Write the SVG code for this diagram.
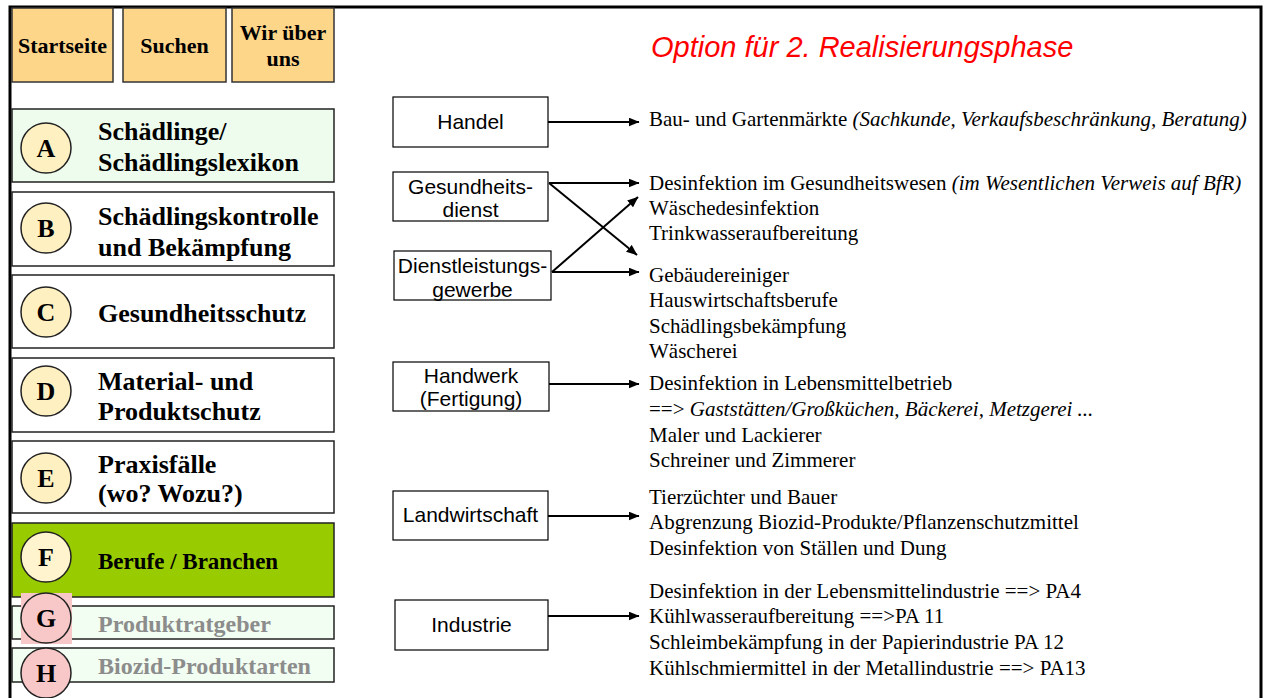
<svg xmlns="http://www.w3.org/2000/svg" width="1266" height="698" viewBox="0 0 1266 698">
  <defs>
    <marker id="arrow" viewBox="0 0 11 9" refX="10.5" refY="4.5" markerWidth="11" markerHeight="9" markerUnits="userSpaceOnUse" orient="auto">
      <path d="M0,0 L11,4.5 L0,9 Z" fill="#000"/>
    </marker>
    <style>
      .btn { fill: #FDD68A; stroke: #333; stroke-width: 1.5; }
      .btnt { font-family: "Liberation Serif", "Times New Roman", serif; font-weight: bold; font-size: 22px; fill: #000; text-anchor: middle; }
      .menu { stroke: #222; stroke-width: 1.5; }
      .mt { font-family: "Liberation Serif", "Times New Roman", serif; font-weight: bold; font-size: 26px; fill: #000; }
      .mtg { font-family: "Liberation Serif", "Times New Roman", serif; font-weight: bold; font-size: 24px; fill: #8C8C8C; }
      .circ { stroke: #222; stroke-width: 1.5; }
      .ct { font-family: "Liberation Serif", "Times New Roman", serif; font-weight: bold; font-size: 26px; fill: #000; text-anchor: middle; }
      .sec { fill: #fff; stroke: #000; stroke-width: 1.2; }
      .st { font-family: "Liberation Sans", Arial, sans-serif; font-size: 21px; fill: #000; text-anchor: middle; }
      .rt { font-family: "Liberation Serif", "Times New Roman", serif; font-size: 21px; fill: #000; }
      .it { font-style: italic; }
      .link { stroke: #000; stroke-width: 2; fill: none; marker-end: url(#arrow); }
    </style>
  </defs>

  <rect x="0" y="0" width="1266" height="698" fill="#fff"/>

  <!-- page frame -->
  <g id="frame" fill="none" stroke="#000" stroke-width="3">
    <path d="M10,698 V7 H1261 V698"/>
  </g>

  <!-- top navigation -->
  <g id="nav-startseite">
    <rect class="btn" x="12" y="8" width="101" height="74"/>
    <text class="btnt" x="62.5" y="53">Startseite</text>
  </g>
  <g id="nav-suchen">
    <rect class="btn" x="123" y="8" width="103" height="74"/>
    <text class="btnt" x="174.5" y="53">Suchen</text>
  </g>
  <g id="nav-wir">
    <rect class="btn" x="232" y="8" width="102" height="74"/>
    <text class="btnt" x="283" y="40">Wir über</text>
    <text class="btnt" x="283" y="66">uns</text>
  </g>

  <!-- left menu -->
  <g id="menu-a">
    <rect class="menu" x="12" y="109" width="322" height="73" fill="#EEFCEE"/>
    <circle class="circ" cx="46" cy="148" r="25" fill="#FFF0C2"/>
    <text class="ct" x="46" y="157">A</text>
    <text class="mt" x="98" y="140">Schädlinge/</text>
    <text class="mt" x="98" y="171">Schädlingslexikon</text>
  </g>
  <g id="menu-b">
    <rect class="menu" x="12" y="192" width="322" height="74" fill="#fff"/>
    <circle class="circ" cx="46" cy="228" r="25" fill="#FFF0C2"/>
    <text class="ct" x="46" y="237">B</text>
    <text class="mt" x="98" y="225">Schädlingskontrolle</text>
    <text class="mt" x="98" y="256">und Bekämpfung</text>
  </g>
  <g id="menu-c">
    <rect class="menu" x="12" y="275" width="322" height="73" fill="#fff"/>
    <circle class="circ" cx="46" cy="312" r="25" fill="#FFF0C2"/>
    <text class="ct" x="46" y="321">C</text>
    <text class="mt" x="98" y="322">Gesundheitsschutz</text>
  </g>
  <g id="menu-d">
    <rect class="menu" x="12" y="358" width="322" height="74" fill="#fff"/>
    <circle class="circ" cx="46" cy="391" r="25" fill="#FFF0C2"/>
    <text class="ct" x="46" y="400">D</text>
    <text class="mt" x="98" y="390">Material- und</text>
    <text class="mt" x="98" y="420">Produktschutz</text>
  </g>
  <g id="menu-e">
    <rect class="menu" x="12" y="441" width="322" height="72" fill="#fff"/>
    <circle class="circ" cx="46" cy="478" r="25" fill="#FFF0C2"/>
    <text class="ct" x="46" y="487">E</text>
    <text class="mt" x="98" y="473">Praxisfälle</text>
    <text class="mt" x="98" y="502">(wo? Wozu?)</text>
  </g>
  <g id="menu-f">
    <rect class="menu" x="12" y="523" width="322" height="74" fill="#99CC00"/>
    <circle class="circ" cx="46" cy="557" r="25" fill="#FFF4CE"/>
    <text class="ct" x="46" y="566">F</text>
    <text class="mt" x="98" y="569" style="font-size:23px">Berufe / Branchen</text>
  </g>
  <g id="menu-g">
    <rect class="menu" x="12" y="606" width="322" height="33" fill="#F2FEF2"/>
    <rect x="21" y="593" width="51" height="51" fill="#F8C8C8"/>
    <circle class="circ" cx="46" cy="618" r="25" fill="#F8C8C8"/>
    <text class="ct" x="46" y="627">G</text>
    <text class="mtg" x="98" y="632">Produktratgeber</text>
  </g>
  <g id="menu-h">
    <rect class="menu" x="12" y="648" width="322" height="34" fill="#F2FEF2"/>
    <circle class="circ" cx="46" cy="673" r="25" fill="#F8C8C8"/>
    <text class="ct" x="46" y="682">H</text>
    <text class="mtg" x="98" y="674">Biozid-Produktarten</text>
  </g>

  <!-- heading -->
  <text x="651" y="57" font-family="'Liberation Sans', Arial, sans-serif" font-style="italic" font-size="29" fill="#FF0000">Option für 2. Realisierungsphase</text>

  <!-- sectors -->
  <g id="sector-handel">
    <rect class="sec" x="393" y="97" width="155" height="50"/>
    <text class="st" x="470.5" y="129">Handel</text>
  </g>
  <g id="sector-gesundheit">
    <rect class="sec" x="393" y="172" width="155" height="49"/>
    <text class="st" x="470.5" y="194">Gesundheits-</text>
    <text class="st" x="470.5" y="217">dienst</text>
  </g>
  <g id="sector-dienstleistung">
    <rect class="sec" x="394" y="251" width="157" height="49"/>
    <text class="st" x="472.5" y="273">Dienstleistungs-</text>
    <text class="st" x="472.5" y="297">gewerbe</text>
  </g>
  <g id="sector-handwerk">
    <rect class="sec" x="393" y="362" width="156" height="49"/>
    <text class="st" x="471" y="383">Handwerk</text>
    <text class="st" x="471" y="406">(Fertigung)</text>
  </g>
  <g id="sector-landwirtschaft">
    <rect class="sec" x="393" y="491" width="155" height="49"/>
    <text class="st" x="470.5" y="522">Landwirtschaft</text>
  </g>
  <g id="sector-industrie">
    <rect class="sec" x="395" y="600" width="153" height="50"/>
    <text class="st" x="471.5" y="632">Industrie</text>
  </g>

  <!-- connectors -->
  <g id="connectors">
    <line class="link" x1="548" y1="122" x2="639" y2="122"/>
    <line class="link" x1="549" y1="183" x2="639" y2="183"/>
    <line class="link" x1="549" y1="183" x2="637" y2="255"/>
    <line class="link" x1="552" y1="272" x2="639" y2="272"/>
    <line class="link" x1="552" y1="272" x2="638" y2="197"/>
    <line class="link" x1="549" y1="384" x2="639" y2="384"/>
    <line class="link" x1="548" y1="516" x2="639" y2="516"/>
    <line class="link" x1="548" y1="616" x2="639" y2="616"/>
  </g>

  <!-- target groups -->
  <g id="targets-handel">
    <text class="rt" x="649" y="126">Bau- und Gartenmärkte <tspan class="it">(Sachkunde, Verkaufsbeschränkung, Beratung)</tspan></text>
  </g>
  <g id="targets-gesundheit">
    <text class="rt" x="649" y="190">Desinfektion im Gesundheitswesen <tspan class="it">(im Wesentlichen Verweis auf BfR)</tspan></text>
    <text class="rt" x="649" y="215">Wäschedesinfektion</text>
    <text class="rt" x="649" y="240">Trinkwasseraufbereitung</text>
  </g>
  <g id="targets-dienstleistung">
    <text class="rt" x="649" y="282">Gebäudereiniger</text>
    <text class="rt" x="649" y="307">Hauswirtschaftsberufe</text>
    <text class="rt" x="649" y="333">Schädlingsbekämpfung</text>
    <text class="rt" x="649" y="358">Wäscherei</text>
  </g>
  <g id="targets-handwerk">
    <text class="rt" x="649" y="390">Desinfektion in Lebensmittelbetrieb</text>
    <text class="rt" x="649" y="416">==&gt; <tspan class="it">Gaststätten/Großküchen, Bäckerei, Metzgerei ...</tspan></text>
    <text class="rt" x="649" y="442">Maler und Lackierer</text>
    <text class="rt" x="649" y="467">Schreiner und Zimmerer</text>
  </g>
  <g id="targets-landwirtschaft">
    <text class="rt" x="649" y="504">Tierzüchter und Bauer</text>
    <text class="rt" x="649" y="529">Abgrenzung Biozid-Produkte/Pflanzenschutzmittel</text>
    <text class="rt" x="649" y="555">Desinfektion von Ställen und Dung</text>
  </g>
  <g id="targets-industrie">
    <text class="rt" x="649" y="598">Desinfektion in der Lebensmittelindustrie ==&gt; PA4</text>
    <text class="rt" x="649" y="623">Kühlwasseraufbereitung ==&gt;PA 11</text>
    <text class="rt" x="649" y="649">Schleimbekämpfung in der Papierindustrie PA 12</text>
    <text class="rt" x="649" y="675">Kühlschmiermittel in der Metallindustrie ==&gt; PA13</text>
  </g>
</svg>
